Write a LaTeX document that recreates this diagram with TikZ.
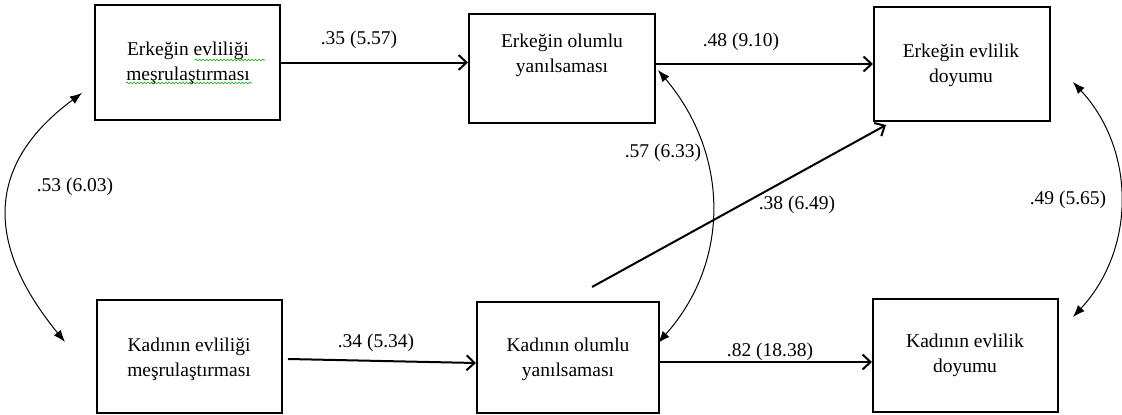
\documentclass[tikz,border=0pt]{standalone}
\usepackage{fontspec}
\setmainfont{Liberation Serif}
\usetikzlibrary{arrows.meta,calc,decorations.pathmorphing}
\begin{document}
\begin{tikzpicture}[x=1pt,y=-1pt,
  box/.style={draw,line width=2pt,rectangle,inner sep=0pt},
  txt/.style={align=center,inner sep=0pt,font=\fontsize{19.5}{25}\selectfont},
  lbl/.style={inner sep=0pt,font=\fontsize{19.5}{25}\selectfont},
  arr/.style={line width=2pt,-{Straight Barb[length=8pt,width=15pt,line width=2pt]}},
  cov/.style={line width=1pt,{Latex[length=12pt,width=9pt]}-{Latex[length=12pt,width=9pt]}},
  squig/.style={draw=green!65!black,line width=0.6pt,decorate,decoration={snake,segment length=3.5pt,amplitude=0.9pt}}
]
\useasboundingbox (0,0) rectangle (1122,415);
% boxes
\node[box,minimum width=185pt,minimum height=115pt] (b1) at (187.5,62.5) {};
\node[box,minimum width=186pt,minimum height=109pt] (b2) at (562,68.5) {};
\node[box,minimum width=176pt,minimum height=114pt] (b3) at (962,64) {};
\node[box,minimum width=185pt,minimum height=113pt] (b4) at (965.5,355.5) {};
\node[box,minimum width=185pt,minimum height=113pt] (b5) at (189.5,356.5) {};
\node[box,minimum width=182pt,minimum height=111pt] (b6) at (568,357.5) {};
% texts
\node[txt] (t1) at (188,63.5) {Erkeğin evliliği\\meşrulaştırması};
\node[txt] (t2) at (562,55.5) {Erkeğin olumlu\\yanılsaması};
\node[txt] (t3) at (961,65) {Erkeğin evlilik\\doyumu};
\node[txt] (t4) at (965,355.5) {Kadının evlilik\\doyumu};
\node[txt] (t5) at (189,359) {Kadının evliliği\\meşrulaştırması};
\node[txt] (t6) at (568,359.5) {Kadının olumlu\\yanılsaması};
% spell-check squiggles
\draw[squig] (195,60) -- (265,60);
\draw[squig] (126,83) -- (252,83);
% straight paths
\draw[arr] (b1.east) -- (b1.east -| b2.west);
\draw[arr] (b2.east |- b3.west) -- (b3.west);
\coordinate (s5) at ($(b5.east)+(5,2.5)$);
\coordinate (e6w) at ($(b6.west)+(0,5.5)$);
\draw[arr] (s5) -- (e6w);
\coordinate (e6) at ($(b6.east)+(0,4.5)$);
\draw[arr] (e6) -- (e6 -| b4.west);
\coordinate (d0) at (592,287);
\coordinate (d1) at ($(b3.south west)+(13,3)$);
\draw[arr] (d0) -- (d1);
% covariances
\coordinate (l1) at (82,93);
\coordinate (l2) at (65,342);
\draw[cov] (l1) .. controls (-40,183) and (12,277) .. (l2);
\coordinate (m1) at (658,70);
\coordinate (m2) at (658,343);
\draw[cov] (m1) .. controls (729,154) and (731,261) .. (m2);
\coordinate (r1) at (1073,82);
\coordinate (r2) at (1073,317);
\draw[cov] (r1) .. controls (1136,150) and (1136,249) .. (r2);
% labels
\node[lbl] at (359,40) {.35 (5.57)};
\node[lbl] at (741,42) {.48 (9.10)};
\node[lbl] at (376,343) {.34 (5.34)};
\node[lbl] at (770,352) {.82 (18.38)};
\node[lbl] at (663,153) {.57 (6.33)};
\node[lbl] at (797,205) {.38 (6.49)};
\node[lbl] at (75,187) {.53 (6.03)};
\node[lbl] at (1068,200) {.49 (5.65)};
\end{tikzpicture}
\end{document}
